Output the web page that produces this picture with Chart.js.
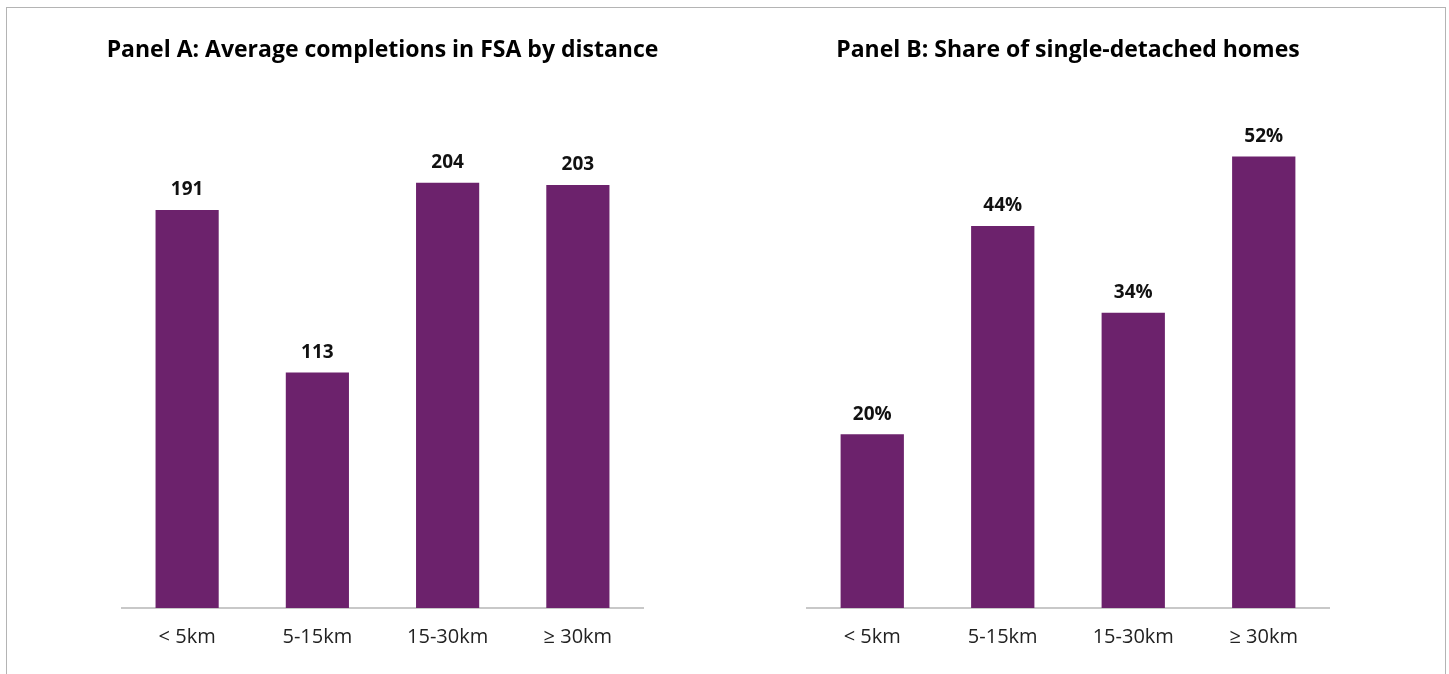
<!DOCTYPE html>
<html>
<head>
<meta charset="utf-8">
<script src="https://cdn.jsdelivr.net/npm/chart.js@4"></script>
<style>
  body { margin: 0; background: #fff; }
  #wrap { position: relative; width: 1449px; height: 674px; overflow: hidden; }
  #frame {
    position: absolute; left: 6px; top: 7px; width: 1438px; height: 700px;
    border-top: 1px solid #b4b4b4; border-left: 1px solid #b4b4b4; border-right: 1px solid #b4b4b4;
  }
  .box { position: absolute; top: 0; height: 674px; }
</style>
</head>
<body>
<div id="wrap">
  <div id="frame"></div>
  <div class="box" style="left:0;width:725px"><canvas id="chartA"></canvas></div>
  <div class="box" style="left:725px;width:724px"><canvas id="chartB"></canvas></div>
</div>
<script>
const distances = ["< 5km", "5-15km", "15-30km", "≥ 30km"];
const completions = [191, 113, 204, 203];
const singleShare = [20, 44, 34, 52];

const purple = "#6c226c";

// 막대 위에 값 표시 + 제목 (제목은 폭 제한 없이 직접 그림)
const valueLabels = {
  id: "valueLabels",
  afterDatasetsDraw(chart, args, opts) {
    const ctx = chart.ctx;
    const meta = chart.getDatasetMeta(0);
    const area = chart.chartArea;
    ctx.save();
    ctx.textAlign = "center";
    ctx.textBaseline = "middle";

    ctx.font = "bold 23px 'Open Sans'";
    ctx.fillStyle = "#000";
    ctx.fillText(opts.title, (area.left + area.right) / 2, 50);

    ctx.font = "bold 19px 'Open Sans'";
    ctx.fillStyle = "#111";
    meta.data.forEach((bar, i) => {
      const v = chart.data.datasets[0].data[i];
      ctx.fillText(opts.fmt(v), bar.x, bar.y - 20);
    });
    ctx.restore();
  },
};

function makeChart(id, title, values, yMax, fmt, padLeft, padRight) {
  const ctx = document.getElementById(id).getContext("2d");
  return new Chart(ctx, {
    type: "bar",
    data: {
      labels: distances,
      datasets: [
        {
          data: values,
          backgroundColor: purple,
          barPercentage: 0.485,
          categoryPercentage: 1,
        },
      ],
    },
    options: {
      responsive: true,
      maintainAspectRatio: false,
      animation: false,
      layout: { padding: { left: padLeft, right: padRight, top: 87, bottom: 8 } },
      plugins: {
        legend: { display: false },
        tooltip: { enabled: false },
        title: { display: false },
        valueLabels: { fmt: fmt, title: title },
      },
      scales: {
        x: {
          grid: { display: false, drawTicks: false },
          border: { display: true, color: "#c8c8c8", width: 2 },
          ticks: {
            color: "#222",
            padding: 17,
            font: { family: "'Open Sans'", size: 20 },
          },
        },
        y: {
          display: false,
          min: 0,
          max: yMax,
        },
      },
    },
    plugins: [valueLabels],
  });
}

makeChart("chartA", "Panel A: Average completions in FSA by distance", completions, 250, (v) => String(v), 122, 82);
makeChart("chartB", "Panel B: Share of single-detached homes", singleShare, 60, (v) => v + "%", 82, 120);
</script>
</body>
</html>
